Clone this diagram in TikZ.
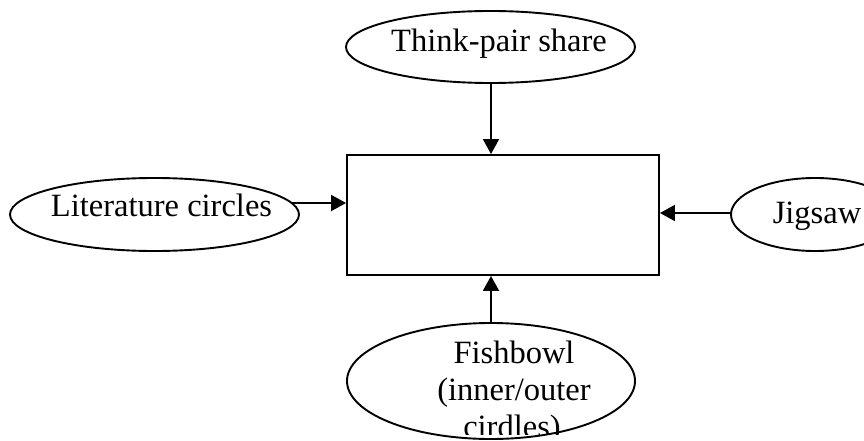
\documentclass[tikz,border=0pt]{standalone}
\usepackage{fontspec}
\setmainfont{Liberation Serif}
\usetikzlibrary{shapes.geometric,arrows.meta}
\tikzset{
  oval/.style={ellipse,draw,line width=1.9pt,inner sep=0pt},
  lbl/.style={font=\fontsize{32.5}{36}\selectfont,inner sep=0pt,anchor=base},
  centre/.style={draw,line width=1.9pt,inner sep=0pt},
  arr/.style={line width=1.9pt,-{Triangle[length=15pt,width=16pt]}}
}
\begin{document}
\begin{tikzpicture}[x=1pt,y=-1pt]
\clip (0,0) rectangle (864,441);
\useasboundingbox (0,0) rectangle (864,441);
% centre box
\node[centre,minimum width=312pt,minimum height=120pt] (box) at (503,215) {};
% ellipses
\node[oval,minimum width=289pt,minimum height=72pt] (tp) at (490.5,47) {};
\node[oval,minimum width=289pt,minimum height=73pt] (lc) at (154.5,214.5) {};
\node[oval,minimum width=168pt,minimum height=73pt] (jg) at (815,214.5) {};
\node[oval,minimum width=288pt,minimum height=116pt] (fb) at (491,381) {};
% labels
\node[lbl] (tpt) at (499,51.5) {Think-pair share};
\node[lbl] (lct) at (161.5,216.5) {Literature circles};
\node[lbl] (jgt) at (817,223) {Jigsaw};
\begin{scope}
\clip (0,0) rectangle (864,434);
\node[lbl] (fbt1) at (514,363) {Fishbowl};
\node[lbl] (fbt2) at (514,400) {(inner/outer};
\node[lbl] (fbt3) at (512,437) {cirdles)};
\end{scope}
% connectors
\coordinate (tpa) at (491,83);
\coordinate (lca) at (292,203);
\coordinate (jga) at (731,213);
\coordinate (fba) at (491,323);
\draw[arr] (tpa) -- (tpa |- box.north);
\draw[arr] (lca) -- (lca -| box.west);
\draw[arr] (jga) -- (jga -| box.east);
\draw[arr] (fba) -- (fba |- box.south);
\end{tikzpicture}
\end{document}
